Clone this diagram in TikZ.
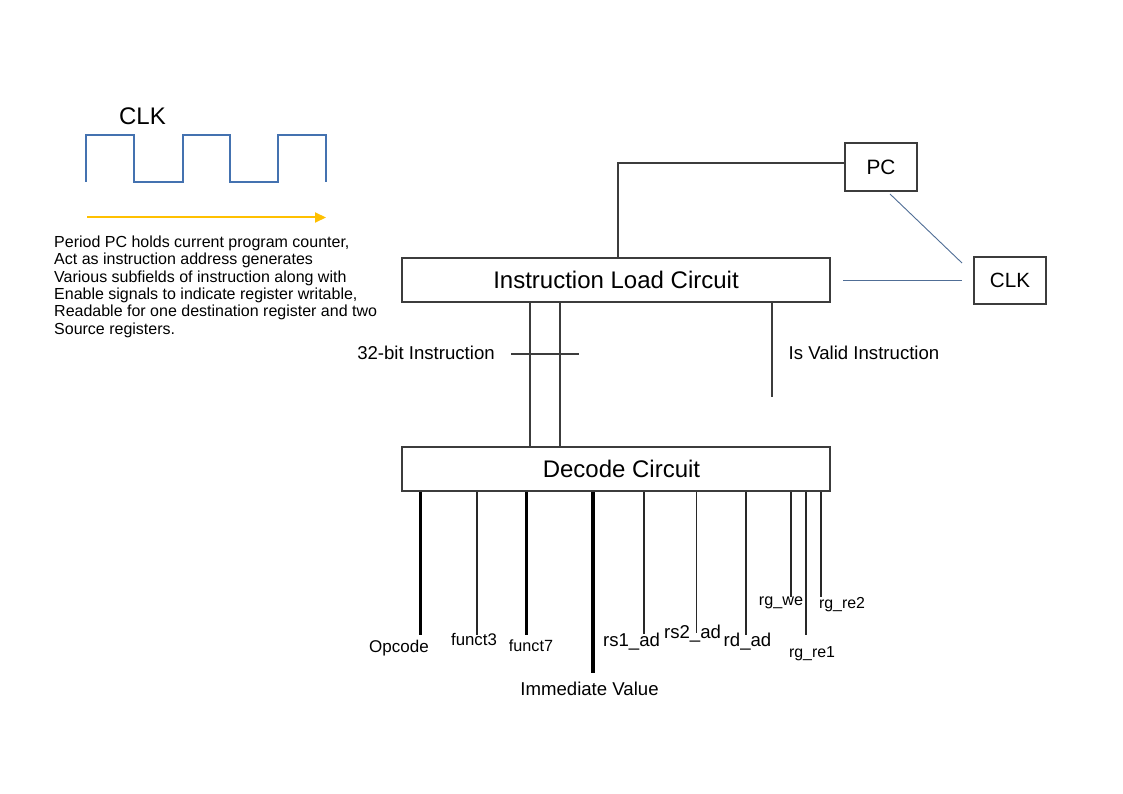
\documentclass[tikz,border=0pt]{standalone}
\usepackage{fontspec}
\setmainfont{Liberation Sans}
\usetikzlibrary{arrows.meta}
\definecolor{boxgray}{RGB}{60,60,60}
\definecolor{wiregray}{RGB}{40,40,40}
\definecolor{lightwire}{RGB}{60,60,60}
\definecolor{clkblue}{RGB}{68,114,176}
\definecolor{linkblue}{RGB}{80,110,150}
\definecolor{goldline}{RGB}{255,192,0}
\begin{document}
\begin{tikzpicture}[x=1pt,y=-1pt,
  box/.style={draw=boxgray,line width=1.1pt,inner sep=0,fill=white},
  bigtxt/.style={font=\fontsize{24}{28}\selectfont},
  midtxt/.style={font=\fontsize{18.6}{22}\selectfont},
  smalltxt/.style={font=\fontsize{16.2}{19}\selectfont},
  lbl/.style={inner sep=0,anchor=base},
  wire/.style={draw=wiregray,line width=1.6pt},
  thinwire/.style={draw=lightwire,line width=1.2pt},
  busA/.style={draw=black,line width=3pt},
  busB/.style={draw=black,line width=4pt},
  bluelink/.style={draw=linkblue,line width=0.9pt},
  clkwave/.style={draw=clkblue,line width=2pt},
]
\fill[white] (0,0) rectangle (1123,794);
\useasboundingbox (0,0) rectangle (1123,794);

% clock diagram
\node[lbl,bigtxt] (clktitle) at (142.5,124.5) {CLK};
\draw[clkwave] (86,182) -- (86,135.5) -- (134,135.5) -- (134,182) -- (182.5,182) -- (182.5,135.5)
  -- (230,135.5) -- (230,182) -- (278,182) -- (278,135.5) -- (326,135.5) -- (326,182);
\coordinate (arS) at (87,217.5);
\coordinate (arE) at (326,217.5);
\draw[draw=goldline,line width=2pt,-{Triangle[length=11pt,width=10pt,fill=goldline]}] (arS) -- (arE);
\node[inner sep=0,anchor=north west,align=left,font=\fontsize{16}{17.4}\selectfont] (desc) at (54,235.5)
 {Period PC holds current program counter,\\
  Act as instruction address generates\\
  Various subfields of instruction along with\\
  Enable signals to indicate register writable,\\
  Readable for one destination register and two\\
  Source registers.};

% boxes
\node[box,bigtxt,minimum width=428pt,minimum height=44pt] (ilc) at (616,280) {Instruction Load Circuit};
\node[box,bigtxt,minimum width=428pt,minimum height=44pt] (dec) at (616,469) {\hspace*{11pt}Decode Circuit};
\node[box,font=\fontsize{20.8}{24}\selectfont,minimum width=72pt,minimum height=48pt] (pc) at (881,167) {PC};
\node[box,font=\fontsize{20.6}{24}\selectfont,minimum width=72pt,minimum height=47pt] (clk) at (1010,280.5) {CLK};

% PC to instruction load circuit
\coordinate (pcj) at (618,163);
\draw[thinwire] ([yshift=4pt]pc.west) -- (pcj) -- (pcj |- ilc.north);

% blue links
\coordinate (bA) at (890,194);
\coordinate (bB) at (962,263);
\draw[bluelink] (bA) -- (bB);
\coordinate (bC) at (843,280);
\coordinate (bD) at (962,280);
\draw[bluelink] (bC) -- (bD);

% 32-bit instruction bus
\coordinate (i1) at (530,0);
\coordinate (i2) at (560,0);
\draw[thinwire] (ilc.south -| i1) -- (dec.north -| i1);
\draw[thinwire] (ilc.south -| i2) -- (dec.north -| i2);
\coordinate (tk1) at (511,354);
\coordinate (tk2) at (579,354);
\draw[thinwire] (tk1) -- (tk2);
\node[lbl,midtxt] (l32) at (426,359) {32-bit Instruction};

% is valid
\coordinate (vE) at (772,397);
\draw[thinwire] (ilc.south -| vE) -- (vE);
\node[lbl,midtxt] (lvalid) at (864,359) {Is Valid Instruction};

% decode outputs
\coordinate (eOp) at (420.3,635);
\coordinate (eF3) at (477,635);
\coordinate (eF7) at (526.3,635);
\coordinate (eIm) at (592.7,673);
\coordinate (eR1) at (643.7,634);
\coordinate (eR2) at (696.3,633);
\coordinate (eRd) at (745.7,635);
\coordinate (eWe) at (791,597);
\coordinate (eRe1) at (806,635);
\coordinate (eRe2) at (821,597);
\draw[busA] (dec.south -| eOp) -- (eOp);
\draw[wire] (dec.south -| eF3) -- (eF3);
\draw[busA] (dec.south -| eF7) -- (eF7);
\draw[busB] (dec.south -| eIm) -- (eIm);
\draw[wire] (dec.south -| eR1) -- (eR1);
\draw[wire] (dec.south -| eR2) -- (eR2);
\draw[wire] (dec.south -| eRd) -- (eRd);
\draw[wire] (dec.south -| eWe) -- (eWe);
\draw[wire] (dec.south -| eRe1) -- (eRe1);
\draw[wire] (dec.south -| eRe2) -- (eRe2);

\node[lbl,font=\fontsize{17}{20}\selectfont] (lop) at (399,652.5) {Opcode};
\node[lbl,font=\fontsize{16.8}{20}\selectfont] (lf3) at (474,645.5) {funct3};
\node[lbl,smalltxt] (lf7) at (531,651.5) {funct7};
\node[lbl,midtxt] (lim) at (589.5,695) {Immediate Value};
\node[lbl,midtxt] (lr1) at (631.5,646.5) {rs1\_ad};
\node[lbl,midtxt] (lr2) at (692.5,638.5) {rs2\_ad};
\node[lbl,midtxt] (lrd) at (747.5,646.5) {rd\_ad};
\node[lbl,smalltxt] (lwe) at (781,605) {rg\_we};
\node[lbl,font=\fontsize{15.9}{19}\selectfont] (lre1) at (812,657.5) {rg\_re1};
\node[lbl,font=\fontsize{15.9}{19}\selectfont] (lre2) at (842,608.5) {rg\_re2};
\end{tikzpicture}
\end{document}
